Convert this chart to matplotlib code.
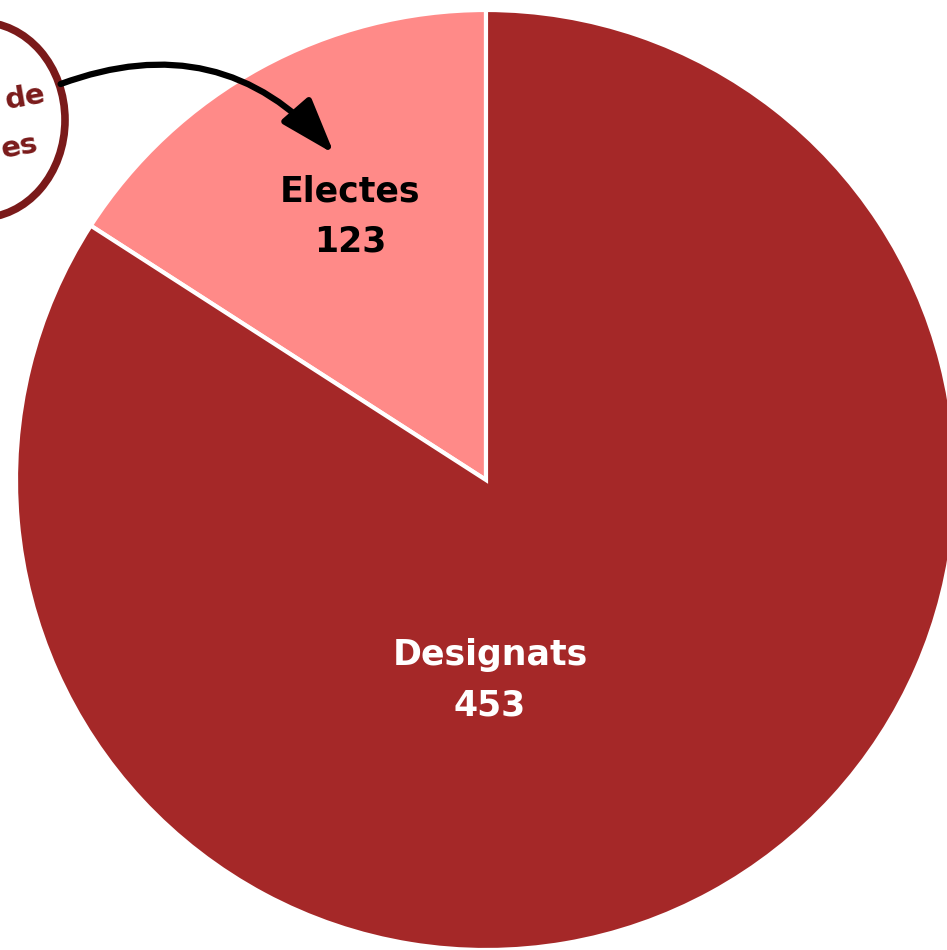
import matplotlib.pyplot as plt
from matplotlib.patches import Ellipse

labels = ["Electes", "Designats"]
counts = [123, 453]
# share of the circle as drawn in the reference (percent)
shares = [15.9, 84.1]
colors = ["#FF8A88", "#A52828"]
text_colors = ["black", "white"]

W, H = 947, 950

fig = plt.figure(figsize=(W / 100, H / 100), dpi=100)
ax = fig.add_axes([0, 0, 1, 1])

cx, cy, r = 486, H - 480, 470
ax.pie(shares, colors=colors, startangle=90, counterclock=True,
       center=(cx, cy), radius=r, frame=True,
       wedgeprops=dict(edgecolor="white", linewidth=3))
ax.set_xlim(0, W)
ax.set_ylim(0, H)
ax.set_aspect("equal")
ax.axis("off")

font = ["DejaVu Sans"]
label_pos = [(350, H - 192), (490, H - 655)]
for lab, n, (x, y), tc in zip(labels, counts, label_pos, text_colors):
    ax.text(x, y, lab, ha="center", va="center", fontsize=25,
            fontweight="bold", color=tc, family=font)
    ax.text(x, y - 50, str(n), ha="center", va="center", fontsize=25,
            fontweight="bold", color=tc, family=font)

# callout bubble on the left, mostly outside the picture
ax.add_patch(Ellipse((-20, H - 120), 170, 196, fill=False,
                     edgecolor="#7A1A1A", linewidth=5.5, clip_on=False))
ax.text(48, H - 98, "de", ha="right", va="center", fontsize=21,
        fontweight="bold", color="#7A1A1A", family=font, rotation=10)
ax.text(40, H - 147, "es", ha="right", va="center", fontsize=21,
        fontweight="bold", color="#7A1A1A", family=font, rotation=10)

ax.annotate("", xy=(336, H - 156), xytext=(58, H - 85),
            arrowprops=dict(arrowstyle="-|>,head_length=1.9,head_width=0.65",
                            mutation_scale=18, color="black", lw=4.5,
                            connectionstyle="arc3,rad=-0.35"))

fig.savefig("out.png", dpi=100)
